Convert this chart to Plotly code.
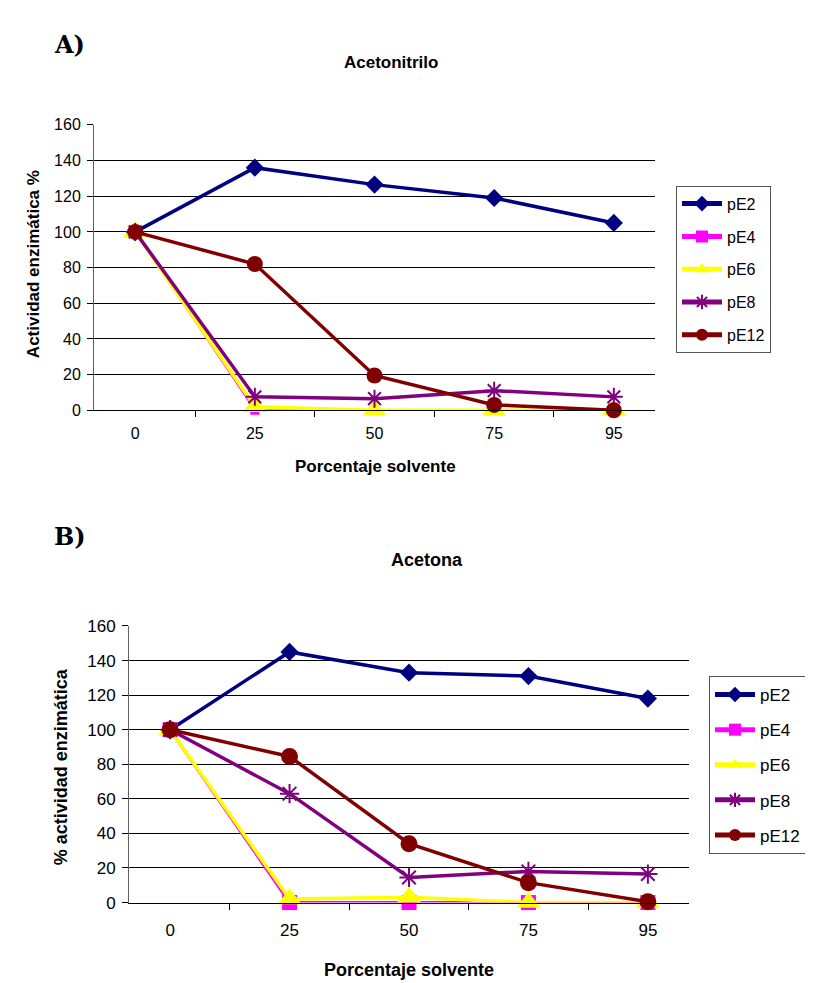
import plotly.graph_objects as go

categories = ["0", "25", "50", "75", "95"]
series_names = ["pE2", "pE4", "pE6", "pE8", "pE12"]

# Panel A: Acetonitrilo
a_pE2 = [100, 136, 126.5, 119, 105]
a_pE4 = [100, 0, 0, 0, 0]
a_pE6 = [100, 2, 0, 0, 0]
a_pE8 = [100, 7.5, 6.5, 11, 7.5]
a_pE12 = [100, 82, 19.5, 3, 0]

# Panel B: Acetona
b_pE2 = [100, 145, 133, 131, 118]
b_pE4 = [100, 0, 0, 0, 0]
b_pE6 = [100, 2, 3, 0, 0]
b_pE8 = [100, 63, 14.5, 18, 16.5]
b_pE12 = [100, 84.5, 34, 11.5, 0.5]

y_ticks = [0, 20, 40, 60, 80, 100, 120, 140, 160]

colors = ["#000080", "#FF00FF", "#FFFF00", "#800080", "#800000"]
symbols = ["diamond", "square", "triangle-up", "asterisk-open", "circle"]
msizes_a = [14, 9, 21, 15, 16]
msizes_b = [14, 15, 21, 16, 17]

W, H = 813, 983
FONT = "Liberation Sans, Arial, sans-serif"

def px(x):
    return x / W

def py(y):
    return 1 - y / H

fig = go.Figure()

def add_panel(data, xa, ya, legend, widths, sizes):
    for i, (name, vals) in enumerate(zip(series_names, data)):
        mk = dict(color=colors[i], size=sizes[i], symbol=symbols[i], opacity=1)
        if symbols[i] == "asterisk-open":
            mk["line"] = dict(color=colors[i], width=2)
        else:
            mk["line"] = dict(width=0)
        fig.add_trace(go.Scatter(
            x=categories, y=vals, name=name, mode="lines+markers",
            line=dict(color=colors[i], width=widths[i]),
            marker=mk, xaxis=xa, yaxis=ya, legend=legend,
            legendgroup=legend + name, cliponaxis=False,
        ))

add_panel([a_pE2, a_pE4, a_pE6, a_pE8, a_pE12], "x", "y", "legend",
          [3.5, 1.5, 3.5, 3.5, 3.5], msizes_a)
add_panel([b_pE2, b_pE4, b_pE6, b_pE8, b_pE12], "x2", "y2", "legend2",
          [3.5, 3, 3.5, 3.5, 3.5], msizes_b)

def xaxis_cfg(domain, anchor, fsize, standoff):
    return dict(
        domain=domain, anchor=anchor, type="category",
        categoryorder="array", categoryarray=categories,
        tickson="boundaries", ticks="outside", ticklen=6, tickcolor="black",
        showgrid=False, showline=True, linecolor="black", linewidth=1,
        tickfont=dict(family=FONT, size=fsize, color="black"),
        ticklabelstandoff=standoff, fixedrange=True,
    )

def yaxis_cfg(domain, anchor, fsize):
    return dict(
        domain=domain, anchor=anchor, range=[0, 160],
        tickvals=y_ticks, ticks="outside", ticklen=6, tickcolor="black",
        showgrid=True, gridcolor="black", gridwidth=1,
        showline=True, linecolor="#606060", linewidth=1, zeroline=False,
        tickfont=dict(family=FONT, size=fsize, color="black"),
        ticklabelstandoff=3, fixedrange=True,
    )

legend_common = dict(
    bgcolor="white", bordercolor="#555555", borderwidth=1,
    xanchor="left", yanchor="top", itemclick=False, itemdoubleclick=False,
    itemsizing="constant", itemwidth=40,
)

fig.update_layout(
    width=W, height=H,
    margin=dict(l=0, r=0, t=0, b=0),
    paper_bgcolor="white", plot_bgcolor="white",
    showlegend=True,
    xaxis=xaxis_cfg([px(86), px(647)], "y", 16, 9),
    yaxis=yaxis_cfg([py(401), py(110)], "x", 16),
    xaxis2=xaxis_cfg([px(121), px(681)], "y2", 17, 12),
    yaxis2=yaxis_cfg([py(903), py(621)], "x2", 17),
    legend=dict(x=px(668), y=py(172), font=dict(family=FONT, size=16, color="black"),
                tracegroupgap=9, **legend_common),
    legend2=dict(x=px(701), y=py(672), font=dict(family=FONT, size=17, color="black"),
                 tracegroupgap=10, **legend_common),
)

annotations = [
    dict(text="<b>A)</b>", x=px(44), y=py(28), xanchor="left", yanchor="middle",
         font=dict(family="DejaVu Serif, serif", size=24, color="black")),
    dict(text="<b>B)</b>", x=px(44), y=py(530), xanchor="left", yanchor="middle",
         font=dict(family="DejaVu Serif, serif", size=24, color="black")),
    dict(text="<b>Acetonitrilo</b>", x=px(383), y=py(46), xanchor="center", yanchor="middle",
         font=dict(family=FONT, size=17, color="black")),
    dict(text="<b>Acetona</b>", x=px(419), y=py(554), xanchor="center", yanchor="middle",
         font=dict(family=FONT, size=18, color="black")),
    dict(text="<b>Actividad enzimática %</b>", x=px(25), y=py(252), textangle=-90,
         xanchor="center", yanchor="middle", font=dict(family=FONT, size=17, color="black")),
    dict(text="<b>% actividad enzimática</b>", x=px(53), y=py(765), textangle=-90,
         xanchor="center", yanchor="middle", font=dict(family=FONT, size=18, color="black")),
    dict(text="<b>Porcentaje solvente</b>", x=px(367), y=py(458), xanchor="center", yanchor="middle",
         font=dict(family=FONT, size=17, color="black")),
    dict(text="<b>Porcentaje solvente</b>", x=px(401), y=py(972), xanchor="center", yanchor="middle",
         font=dict(family=FONT, size=18, color="black")),
]
for a in annotations:
    a.update(xref="paper", yref="paper", showarrow=False)
fig.update_layout(annotations=annotations)

fig.write_html("out.html")
